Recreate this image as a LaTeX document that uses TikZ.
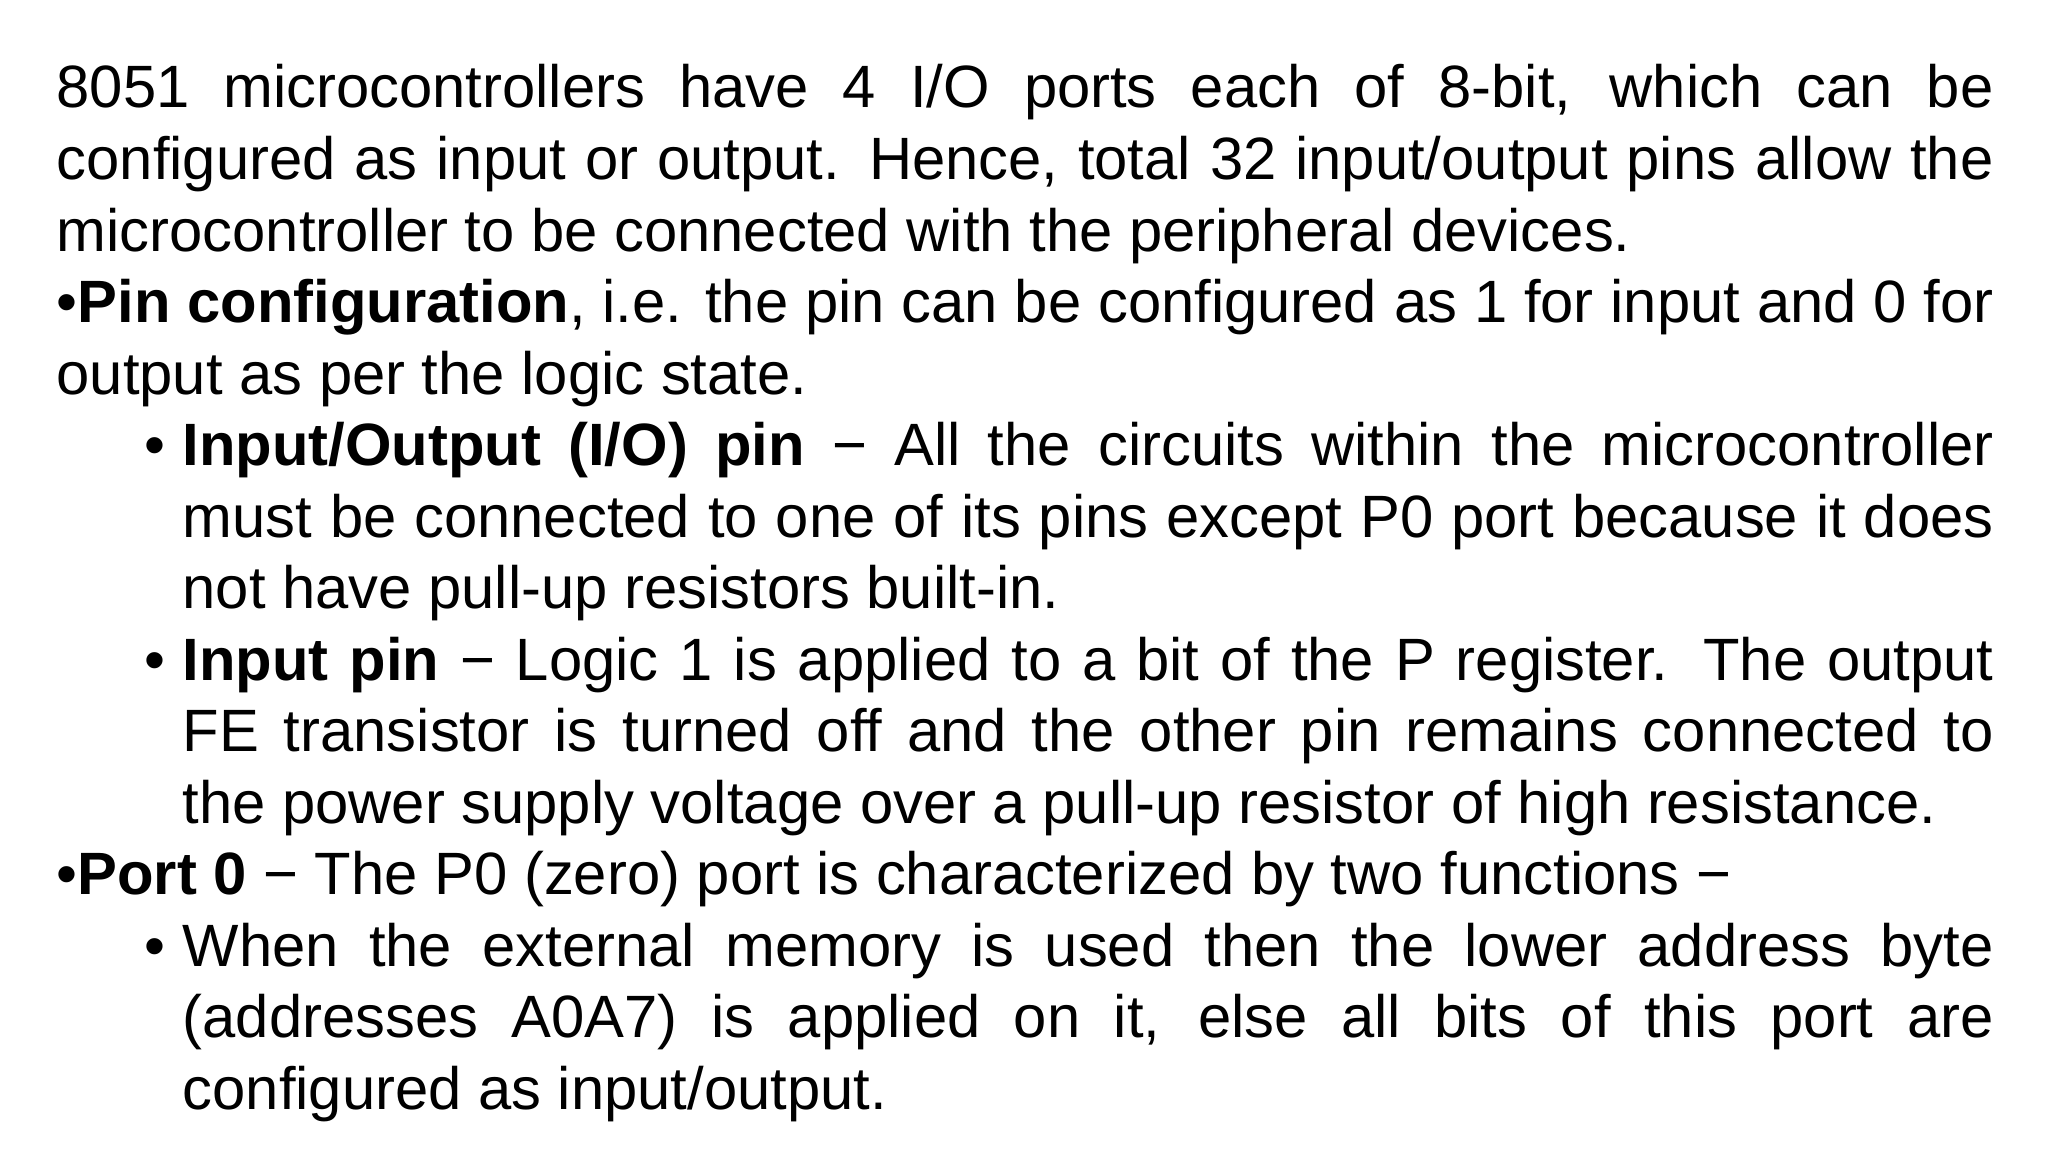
\documentclass[tikz,border=0pt]{standalone}
\usepackage{fontspec}
\setmainfont{Liberation Sans}
\newlength\bulind \setlength\bulind{1.26cm}
\newcommand\myitem[1]{\par\hangindent=\bulind\hangafter=1\noindent\hspace*{0.88cm}\makebox[0.38cm][l]{•}#1}
\begin{document}
\begin{tikzpicture}
\useasboundingbox[fill=white] (0,0) rectangle (20.48,11.52);
\node[anchor=north west, inner sep=0pt, text width=19.37cm, align=justify, font=\fontsize{17pt}{20.35pt}\selectfont] (body) at (0.56,10.88) {%
\tolerance=9999\emergencystretch=2cm\parindent=0pt\hyphenpenalty=10000\exhyphenpenalty=10000
8051 microcontrollers have 4 I/O ports each of 8-bit, which can be\linebreak configured as input or output. Hence, total 32 input/output pins allow the\linebreak microcontroller to be connected with the peripheral devices.\par
•\textbf{Pin configuration}, i.e. the pin can be configured as 1 for input and 0 for\linebreak output as per the logic state.
\myitem{\textbf{Input/Output (I/O) pin} − All the circuits within the microcontroller\linebreak must be connected to one of its pins except P0 port because it does\linebreak not have pull-up resistors built-in.}
\myitem{\textbf{Input pin} − Logic 1 is applied to a bit of the P register. The output\linebreak FE transistor is turned off and the other pin remains connected to\linebreak the power supply voltage over a pull-up resistor of high resistance.}\par
•\textbf{Port 0} − The P0 (zero) port is characterized by two functions −
\myitem{When the external memory is used then the lower address byte\linebreak (addresses A0A7) is applied on it, else all bits of this port are\linebreak configured as input/output.}\par
};
\end{tikzpicture}
\end{document}
